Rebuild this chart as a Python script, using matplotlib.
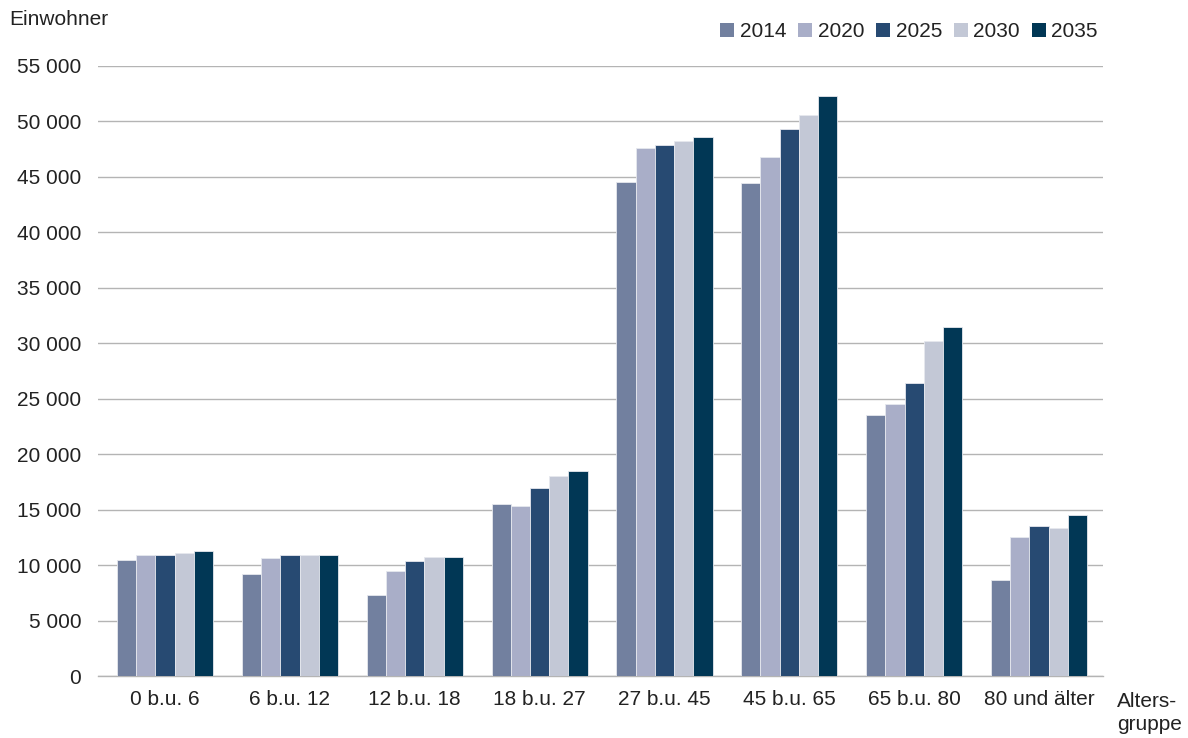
import numpy as np
import matplotlib.pyplot as plt
from matplotlib.patches import Patch

plt.rcParams["font.family"] = ["Liberation Sans", "DejaVu Sans"]

# age groups and projected residents per year
groups = ["0 b.u. 6", "6 b.u. 12", "12 b.u. 18", "18 b.u. 27",
          "27 b.u. 45", "45 b.u. 65", "65 b.u. 80", "80 und älter"]
years = ["2014", "2020", "2025", "2030", "2035"]
v2014 = [10450, 9200, 7300, 15500, 44550, 44450, 23550, 8700]
v2020 = [10900, 10650, 9450, 15300, 47600, 46750, 24550, 12500]
v2025 = [10900, 10950, 10400, 16950, 47850, 49350, 26450, 13500]
v2030 = [11050, 10900, 10750, 18000, 48200, 50550, 30200, 13300]
v2035 = [11300, 10950, 10750, 18500, 48600, 52250, 31500, 14550]
series = [v2014, v2020, v2025, v2030, v2035]
colors = ["#72809f", "#a9aec8", "#274a72", "#c3c8d6", "#013755"]

yticks = np.arange(0, 55001, 5000)
text_col = "#222222"
fs = 15

fig = plt.figure(figsize=(11.88, 7.38), dpi=100)
ax = fig.add_axes([0.0825, 0.084, 0.846, 0.8266])

x = np.arange(len(groups))
w = 0.154
for i, (vals, c) in enumerate(zip(series, colors)):
    ax.bar(x + (i - 2) * w, vals, width=w, color=c, edgecolor="#e6e8ee",
           linewidth=0.6, zorder=3)

ax.set_xlim(-0.537, 7.513)
ax.set_ylim(0, 55000)
ax.set_yticks(yticks)
ax.set_yticklabels([f"{v:,}".replace(",", " ") for v in yticks])
ax.set_xticks(x)
ax.set_xticklabels(groups)
ax.yaxis.grid(True, color="#b4b4b4", linewidth=1.0, zorder=0)
ax.set_axisbelow(True)
for s in ["top", "right", "left"]:
    ax.spines[s].set_visible(False)
ax.spines["bottom"].set_color("#b4b4b4")
ax.spines["bottom"].set_linewidth(1.0)
ax.tick_params(axis="both", length=0, labelsize=fs, colors=text_col)
ax.tick_params(axis="y", pad=12)
ax.tick_params(axis="x", pad=10)

fig.text(0.008, 0.973, "Einwohner", fontsize=fs, color=text_col, va="center")
fig.text(0.940, 0.034, "Alters-\ngruppe", fontsize=fs, color=text_col,
         va="center", linespacing=1.25)

handles = [Patch(facecolor=c, edgecolor="none") for c in colors]
fig.legend(handles, years, loc="center right", bbox_to_anchor=(0.94, 0.957),
           ncol=5, frameon=False, fontsize=fs, handlelength=0.7,
           handleheight=0.7, handletextpad=0.25, columnspacing=0.56,
           labelcolor=text_col)

fig.savefig("out.png", dpi=100)
